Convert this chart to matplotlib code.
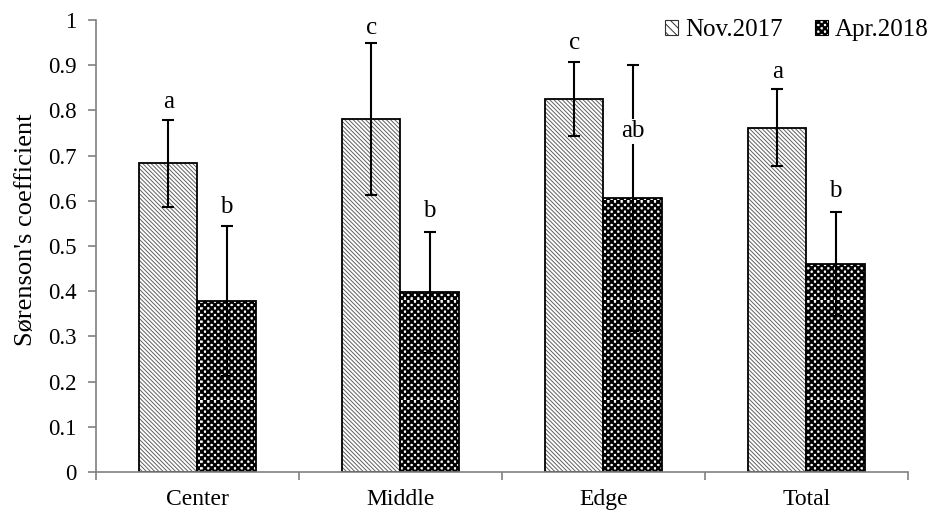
import numpy as np
import matplotlib
matplotlib.use('Agg')
import matplotlib.pyplot as plt
import matplotlib.patches as mpatches
from matplotlib import hatch as mhatch
from matplotlib.path import Path

# 数据（从图上读出来的）
sites = ['Center', 'Middle', 'Edge', 'Total']
nov_mean = [0.683, 0.781, 0.825, 0.762]
nov_sd = [0.096, 0.169, 0.082, 0.085]
apr_mean = [0.378, 0.398, 0.606, 0.460]
apr_sd = [0.166, 0.134, 0.294, 0.115]
nov_letters = ['a', 'c', 'c', 'a']
apr_letters = ['b', 'b', 'ab', 'b']
nov_letter_y = [0.805, 0.969, 0.936, 0.872]
apr_letter_y = [0.573, 0.564, 0.741, 0.608]
yticks = [0, 0.1, 0.2, 0.3, 0.4, 0.5, 0.6, 0.7, 0.8, 0.9, 1]


# 棋盘格填充：用 '*' 代替原来的星形填充
class Checker(mhatch.HatchPatternBase):
    def __init__(self, hatch, density):
        self.n = 30
        if '*' in hatch:
            self.cells = [(i, j) for i in range(self.n) for j in range(self.n) if (i + j) % 2 == 0]
        else:
            self.cells = []
        self.num_vertices = len(self.cells) * 5

    def set_vertices_and_codes(self, vertices, codes):
        s = 1.0 / self.n
        for k, (i, j) in enumerate(self.cells):
            x0, y0 = i * s, j * s
            vertices[k * 5:(k + 1) * 5] = [(x0, y0), (x0 + s, y0), (x0 + s, y0 + s), (x0, y0 + s), (x0, y0)]
            codes[k * 5:(k + 1) * 5] = [Path.MOVETO, Path.LINETO, Path.LINETO, Path.LINETO, Path.CLOSEPOLY]


mhatch._hatch_types = [h for h in mhatch._hatch_types if h is not mhatch.Stars] + [Checker]

plt.rcParams['font.family'] = ['Liberation Serif', 'DejaVu Serif']
plt.rcParams['hatch.linewidth'] = 0.7

fig = plt.figure(figsize=(9.29, 5.12), dpi=100)
ax = fig.add_axes([0.1033, 0.078, 0.8741, 0.883])

x = np.arange(len(sites))
w = 0.288
nov_hatch = '\\' * 8
# 先画灰色斜线填充，再画黑色边框
ax.bar(x - w / 2, nov_mean, w, facecolor='white', edgecolor='#606060', linewidth=0,
       hatch=nov_hatch, zorder=1)
ax.bar(x - w / 2, nov_mean, w, fill=False, edgecolor='black', linewidth=1.3, zorder=1.1)
ax.bar(x + w / 2, apr_mean, w, facecolor='white', edgecolor='black', linewidth=1.3,
       hatch='*', zorder=1)
ax.errorbar(x - w / 2, nov_mean, yerr=nov_sd, fmt='none', ecolor='black',
            elinewidth=1.5, capsize=4, capthick=1.5, zorder=2)
ax.errorbar(x + w / 2, apr_mean, yerr=apr_sd, fmt='none', ecolor='black',
            elinewidth=1.5, capsize=4, capthick=1.5, zorder=2)

for i in range(len(sites)):
    ax.text(x[i] - w / 2, nov_letter_y[i], nov_letters[i], ha='center', va='baseline',
            fontsize=18, zorder=3)
    ax.text(x[i] + w / 2, apr_letter_y[i], apr_letters[i], ha='center', va='baseline',
            fontsize=18, zorder=3,
            bbox=dict(facecolor='white', edgecolor='none', pad=1))

ax.set_xlim(-0.5, len(sites) - 0.5)
ax.set_ylim(0, 1)
ax.set_yticks(yticks)
ax.set_yticklabels([f'{v:g}' for v in yticks])
ax.set_xticks(np.arange(len(sites) + 1) - 0.5)
ax.set_xticklabels([])
ax.set_xticks(x, minor=True)
ax.set_xticklabels(sites, minor=True)
ax.tick_params(axis='x', which='major', length=6, width=1.2, color='#808080', direction='out')
ax.tick_params(axis='x', which='minor', length=0, pad=12, labelsize=17)
ax.tick_params(axis='y', length=6, width=1.2, color='#808080', direction='out', pad=8, labelsize=16.5)

for s in ['top', 'right']:
    ax.spines[s].set_visible(False)
for s in ['left', 'bottom']:
    ax.spines[s].set_color('#808080')
    ax.spines[s].set_linewidth(1.2)

ax.set_ylabel("Sørenson's coefficient", fontsize=19)
ax.yaxis.set_label_coords(-0.072, 0.535)

handles = [mpatches.Patch(facecolor='white', edgecolor='#303030', linewidth=0.8, hatch='\\' * 4),
           mpatches.Patch(facecolor='white', edgecolor='black', linewidth=0.8, hatch='*')]
fig.legend(handles, ['Nov.2017', 'Apr.2018'], loc='upper right', bbox_to_anchor=(1.0, 0.962),
           ncol=2, frameon=False, fontsize=18, handlelength=0.5, handleheight=0.5,
           handletextpad=0.3, columnspacing=1.3, borderaxespad=0, borderpad=0)

plt.savefig('out.png', dpi=100)
